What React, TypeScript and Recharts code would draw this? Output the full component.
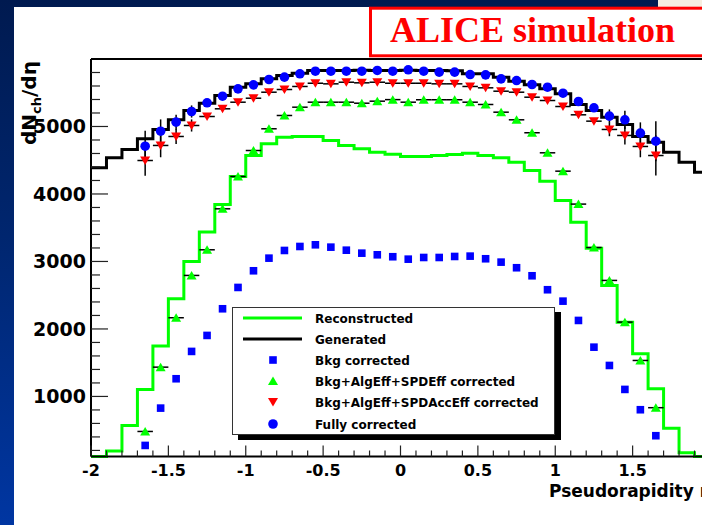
import React from 'react';
import { ComposedChart, Line, Scatter, XAxis, YAxis, ErrorBar, ReferenceLine, Legend } from 'recharts';

// ---- data ----
const binCenters = [
  -1.95, -1.85, -1.75, -1.65, -1.55, -1.45, -1.35, -1.25, -1.15, -1.05,
  -0.95, -0.85, -0.75, -0.65, -0.55, -0.45, -0.35, -0.25, -0.15, -0.05,
  0.05, 0.15, 0.25, 0.35, 0.45, 0.55, 0.65, 0.75, 0.85, 0.95,
  1.05, 1.15, 1.25, 1.35, 1.45, 1.55, 1.65, 1.75, 1.85, 1.95,
];
const binHalfWidth = 0.05;

const generated = [
  4388, 4536, 4659, 4817, 4956, 5099, 5237, 5345, 5459, 5582,
  5632, 5706, 5756, 5790, 5830, 5830, 5830, 5835, 5830, 5830,
  5835, 5830, 5830, 5825, 5781, 5781, 5731, 5671, 5617, 5558,
  5484, 5326, 5237, 5138, 5030, 4852, 4768, 4619, 4471, 4323,
];
const reconstructed = [
  110, 190, 570, 1104, 1746, 2447, 3000, 3435, 3844, 4259,
  4570, 4744, 4842, 4852, 4852, 4793, 4719, 4670, 4619, 4590,
  4556, 4556, 4570, 4585, 4605, 4570, 4536, 4471, 4348, 4190,
  3904, 3582, 3197, 2644, 2101, 1633, 1114, 530, 166, 110,
];

const pointEta = [
  -1.65, -1.55, -1.45, -1.35, -1.25, -1.15, -1.05, -0.95, -0.85, -0.75, -0.65, -0.55,
  -0.45, -0.35, -0.25, -0.15, -0.05, 0.05, 0.15, 0.25, 0.35, 0.45, 0.55, 0.65,
  0.75, 0.85, 0.95, 1.05, 1.15, 1.25, 1.35, 1.45, 1.55, 1.65,
];
const bkgCorrected = [
  274, 827, 1262, 1667, 1904, 2299, 2615, 2862, 3049, 3163, 3222, 3247,
  3212, 3167, 3123, 3099, 3070, 3034, 3059, 3059, 3074, 3079, 3040, 2990,
  2907, 2788, 2581, 2412, 2126, 1730, 1459, 1104, 803, 418,
];
const bkgAlgSpdEff = [
  481, 1434, 2166, 2793, 3173, 3780, 4259, 4644, 4966, 5163, 5286, 5360,
  5360, 5360, 5345, 5375, 5398, 5360, 5396, 5396, 5396, 5360, 5326, 5212,
  5099, 4907, 4610, 4338, 3850, 3207, 2719, 2101, 1533, 833,
];
const bkgAlgSpdAccEff = [
  4496, 4719, 4852, 5015, 5148, 5262, 5360, 5419, 5508, 5548, 5593, 5641,
  5632, 5656, 5647, 5656, 5641, 5641, 5641, 5632, 5632, 5593, 5573, 5523,
  5508, 5434, 5385, 5296, 5173, 5079, 4956, 4867, 4704, 4570,
];
const fullyCorrected = [
  4708, 4930, 5064, 5222, 5351, 5449, 5558, 5617, 5696, 5731, 5781, 5819,
  5819, 5819, 5819, 5830, 5819, 5840, 5819, 5805, 5805, 5770, 5765, 5706,
  5681, 5622, 5582, 5493, 5370, 5277, 5153, 5099, 4901, 4782,
];
const correctedErrors = [
  227, 175, 110, 90, 0, 0, 0, 0, 0, 0, 0, 0,
  0, 0, 0, 0, 0, 0, 0, 0, 0, 0, 0, 0,
  0, 0, 0, 0, 0, 0, 100, 135, 160, 296,
];

// labelled x ticks visible in the picture (the one at 2 lies beyond the right edge)
const xMajorLabels = [-2, -1.5, -1, -0.5, 0, 0.5, 1, 1.5];
const yMajorTicks = [1000, 2000, 3000, 4000, 5000];
const legendLabels = [
  'Reconstructed',
  'Generated',
  'Bkg corrected',
  'Bkg+AlgEff+SPDEff corrected',
  'Bkg+AlgEff+SPDAccEff corrected',
  'Fully corrected',
];

// ---- derived tables ----
const r2 = (v: number) => Math.round(v * 100) / 100;
const stepSeries = (vals: number[]) => [
  ...binCenters.map((c, i) => ({ x: r2(c - binHalfWidth), y: vals[i] })),
  { x: r2(binCenters[binCenters.length - 1] + binHalfWidth), y: vals[vals.length - 1] },
];
const pointSeries = (vals: number[], errs?: number[]) =>
  pointEta.map((x, i) => ({ x, y: vals[i], ex: binHalfWidth, ey: errs ? errs[i] : 0 }));

const genData = stepSeries(generated);
const recoData = stepSeries(reconstructed);
const bkgData = pointSeries(bkgCorrected);
const effData = pointSeries(bkgAlgSpdEff);
const accData = pointSeries(bkgAlgSpdAccEff, correctedErrors);
const fullData = pointSeries(fullyCorrected, correctedErrors);

const xTicks: number[] = [];
for (let i = -20; i <= 20; i++) xTicks.push(i / 10);
const yTicks: number[] = [];
for (let v = 200; v <= 5800; v += 200) yTicks.push(v);

const FONT = '"DejaVu Sans", sans-serif';
const BLUE = '#0000ff';
const GREEN = '#00ff00';
const RED = '#ff0000';

type Kind = 'square' | 'up' | 'down' | 'circle';
function Marker({ kind, cx, cy, color }: { kind: Kind; cx: number; cy: number; color: string }) {
  if (cx == null || cy == null) return null;
  switch (kind) {
    case 'square':
      return <rect x={cx - 3.8} y={cy - 3.8} width={7.6} height={7.6} fill={color} />;
    case 'up':
      return <polygon points={`${cx},${cy - 4.5} ${cx + 5},${cy + 4} ${cx - 5},${cy + 4}`} fill={color} />;
    case 'down':
      return <polygon points={`${cx},${cy + 4.5} ${cx + 5},${cy - 4} ${cx - 5},${cy - 4}`} fill={color} />;
    default:
      return <circle cx={cx} cy={cy} r={4.8} fill={color} />;
  }
}

const XTick = (props: any) => {
  const { x, y, payload } = props;
  const v = payload.value as number;
  const major = Math.abs(v * 2 - Math.round(v * 2)) < 1e-6;
  const label = xMajorLabels.find((t) => Math.abs(t - v) < 1e-6);
  return (
    <g>
      <line x1={x} x2={x} y1={y} y2={y - (major ? 11 : 6)} stroke="#222" strokeWidth={1.2} />
      {label !== undefined && (
        <text x={x} y={y + 19} textAnchor="middle" fontFamily={FONT} fontWeight="bold" fontSize={16} fill="#000">
          {String(label)}
        </text>
      )}
    </g>
  );
};

const YTick = (props: any) => {
  const { x, y, payload } = props;
  const v = payload.value as number;
  const major = yMajorTicks.includes(v);
  return (
    <g>
      <line x1={x} x2={x + (major ? 17 : 9)} y1={y} y2={y} stroke="#222" strokeWidth={1.2} />
      {major && (
        <text x={x - 5} y={y + 7} textAnchor="end" fontFamily={FONT} fontWeight="bold" fontSize={19} fill="#000">
          {String(v)}
        </text>
      )}
    </g>
  );
};

const legendRows: { type: 'line' | Kind; color: string }[] = [
  { type: 'line', color: GREEN },
  { type: 'line', color: '#000' },
  { type: 'square', color: BLUE },
  { type: 'up', color: GREEN },
  { type: 'down', color: RED },
  { type: 'circle', color: BLUE },
];
const rowY = [11, 32, 53, 74, 95, 117];

const LegendBox = () => (
  <div
    style={{
      width: 323,
      height: 128,
      background: '#fff',
      border: '1px solid #333',
      boxSizing: 'border-box',
      boxShadow: '6px 5px 0 #000',
    }}
  >
    <svg width={321} height={126} style={{ display: 'block' }}>
      {legendLabels.map((lab, i) => {
        const r = legendRows[i];
        const y = rowY[i] - 1;
        return (
          <g key={lab}>
            {r.type === 'line' ? (
              <line x1={10} x2={69} y1={y} y2={y} stroke={r.color} strokeWidth={3} />
            ) : (
              <Marker kind={r.type} cx={40} cy={y} color={r.color} />
            )}
            <text x={82} y={y + 4.5} fontFamily={FONT} fontWeight="bold" fontSize={12} fill="#000">
              {lab}
            </text>
          </g>
        );
      })}
    </svg>
  </div>
);

export default function App() {
  return (
    <div
      style={{
        position: 'fixed',
        left: 0,
        top: 0,
        width: 702,
        height: 525,
        overflow: 'hidden',
        background: 'linear-gradient(180deg, #001a50 0%, #00266f 45%, #0036a2 100%)',
      }}
    >
      <div style={{ position: 'absolute', left: 14, top: 7, right: 0, bottom: 0, background: '#fff' }} />
      <div style={{ position: 'absolute', left: 658, top: 0, width: 44, height: 7, background: '#f6eee0' }} />
      <div style={{ position: 'absolute', left: 0, top: 0 }}>
        <ComposedChart width={730} height={525} margin={{ top: 59, right: 20, left: 0, bottom: 28.5 }}>
          <XAxis
            dataKey="x"
            type="number"
            domain={[-2, 2]}
            ticks={xTicks}
            interval={0}
            tick={XTick}
            tickLine={false}
            tickSize={0}
            tickMargin={0}
            height={40}
            axisLine={{ stroke: '#000', strokeWidth: 2 }}
          />
          <YAxis
            type="number"
            domain={[110, 6000]}
            ticks={yTicks}
            interval={0}
            tick={YTick}
            tickLine={false}
            tickSize={0}
            tickMargin={0}
            width={91}
            axisLine={{ stroke: '#000', strokeWidth: 2 }}
          />
          <ReferenceLine y={6000} stroke="#000" strokeWidth={2} />
          <Line
            data={recoData}
            dataKey="y"
            name="Reconstructed"
            type="stepAfter"
            stroke={GREEN}
            strokeWidth={3}
            dot={false}
            activeDot={false}
            isAnimationActive={false}
          />
          <Line
            data={genData}
            dataKey="y"
            name="Generated"
            type="stepAfter"
            stroke="#000"
            strokeWidth={3}
            dot={false}
            activeDot={false}
            isAnimationActive={false}
          />
          <Scatter
            data={bkgData}
            dataKey="y"
            name="Bkg corrected"
            isAnimationActive={false}
            shape={(p: any) => <Marker kind="square" cx={p.cx} cy={p.cy} color={BLUE} />}
          />
          <Scatter
            data={effData}
            dataKey="y"
            name="Bkg+AlgEff+SPDEff corrected"
            isAnimationActive={false}
            shape={(p: any) => <Marker kind="up" cx={p.cx} cy={p.cy} color={GREEN} />}
          >
            <ErrorBar dataKey="ex" direction="x" width={0} stroke="#000" strokeWidth={1.5} />
          </Scatter>
          <Scatter
            data={accData}
            dataKey="y"
            name="Bkg+AlgEff+SPDAccEff corrected"
            isAnimationActive={false}
            shape={(p: any) => <Marker kind="down" cx={p.cx} cy={p.cy} color={RED} />}
          >
            <ErrorBar dataKey="ex" direction="x" width={0} stroke="#000" strokeWidth={1.5} />
            <ErrorBar dataKey="ey" direction="y" width={0} stroke="#000" strokeWidth={1.5} />
          </Scatter>
          <Scatter
            data={fullData}
            dataKey="y"
            name="Fully corrected"
            isAnimationActive={false}
            shape={(p: any) => <Marker kind="circle" cx={p.cx} cy={p.cy} color={BLUE} />}
          >
            <ErrorBar dataKey="ey" direction="y" width={0} stroke="#000" strokeWidth={1.5} />
          </Scatter>
          <Legend
            layout="horizontal"
            verticalAlign="middle"
            align="center"
            wrapperStyle={{ left: 232, top: 307, width: 323, height: 128 }}
            content={() => <LegendBox />}
          />
        </ComposedChart>
      </div>
      <svg width={702} height={525} style={{ position: 'absolute', left: 0, top: 0, pointerEvents: 'none' }}>
        <rect x={370.5} y={8.2} width={400} height={47.6} fill="#fff" stroke={RED} strokeWidth={3} />
        <text x={390} y={42} fontFamily='"Liberation Serif", serif' fontWeight="bold" fontSize={36} fill={RED}>
          ALICE simulation
        </text>
        <text
          transform="translate(36,145) rotate(-90)"
          fontFamily={FONT}
          fontWeight="bold"
          fontSize={20}
          fill="#000"
        >
          dN
          <tspan fontSize={13} dy={5}>ch</tspan>
          <tspan dy={-5}>/dη</tspan>
        </text>
        <text x={549} y={497} fontFamily={FONT} fontWeight="bold" fontSize={17} fill="#000">
          Pseudorapidity η
        </text>
      </svg>
    </div>
  );
}
